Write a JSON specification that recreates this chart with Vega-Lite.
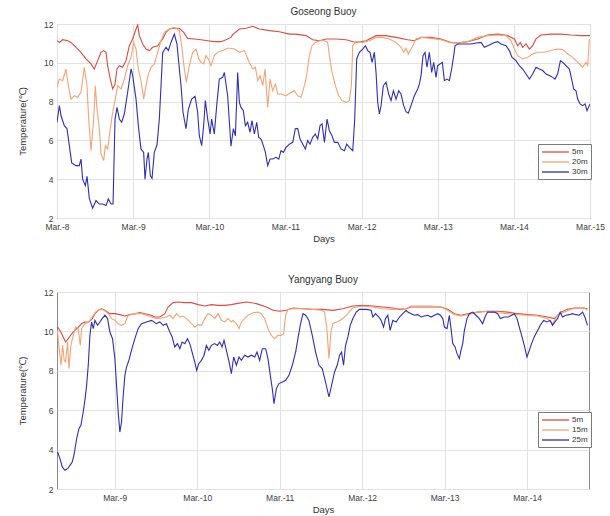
{
  "$schema": "https://vega.github.io/schema/vega-lite/v6.json",
  "padding": {"left": 17, "top": 6, "right": 10, "bottom": 0},
  "spacing": 30,
  "config": {
    "font": "Liberation Sans",
    "view": {"stroke": "#8a8a8a", "strokeWidth": 1},
    "axis": {"gridColor": "#e2e2e2", "domain": false, "ticks": false, "tickSize": 0, "labelPadding": 4, "labelFontSize": 8.5, "labelColor": "#404040", "titleFontSize": 9.5, "titleFontWeight": "normal", "titleColor": "#333333", "labelFlush": false, "labelOverlap": false},
    "title": {"fontSize": 10, "fontWeight": "normal", "color": "#333333", "offset": 3},
    "legend": {"title": null, "orient": "none", "symbolType": "M-1,0H5.75", "symbolSize": 64, "symbolStrokeWidth": 1.3, "labelFontSize": 8, "labelColor": "#333333", "strokeColor": "#7a7a7a", "fillColor": "#ffffff", "padding": 3, "rowPadding": 1, "labelOffset": 21}
  },
  "datasets": {
    "goseong": [
      {"depth":"5m","day":8.0,"temp":11.14},{"depth":"5m","day":8.031,"temp":11.05},{"depth":"5m","day":8.074,"temp":11.19},{"depth":"5m","day":8.14,"temp":11.14},{"depth":"5m","day":8.184,"temp":11.05},{"depth":"5m","day":8.25,"temp":10.8},{"depth":"5m","day":8.315,"temp":10.54},{"depth":"5m","day":8.381,"temp":10.2},{"depth":"5m","day":8.447,"temp":9.94},{"depth":"5m","day":8.49,"temp":9.68},{"depth":"5m","day":8.534,"temp":10.11},{"depth":"5m","day":8.578,"temp":10.54},{"depth":"5m","day":8.613,"temp":10.63},{"depth":"5m","day":8.644,"temp":10.54},{"depth":"5m","day":8.665,"temp":9.85},{"depth":"5m","day":8.7,"temp":9.16},{"depth":"5m","day":8.731,"temp":8.65},{"depth":"5m","day":8.762,"temp":8.9},{"depth":"5m","day":8.788,"temp":9.68},{"depth":"5m","day":8.819,"temp":9.85},{"depth":"5m","day":8.862,"temp":9.77},{"depth":"5m","day":8.906,"temp":10.11},{"depth":"5m","day":8.95,"temp":10.88},{"depth":"5m","day":8.994,"temp":11.23},{"depth":"5m","day":9.038,"temp":11.74},{"depth":"5m","day":9.059,"temp":11.95},{"depth":"5m","day":9.081,"temp":11.4},{"depth":"5m","day":9.125,"temp":10.97},{"depth":"5m","day":9.169,"temp":10.71},{"depth":"5m","day":9.213,"temp":10.63},{"depth":"5m","day":9.256,"temp":10.8},{"depth":"5m","day":9.322,"temp":10.88},{"depth":"5m","day":9.388,"temp":11.23},{"depth":"5m","day":9.432,"temp":11.57},{"depth":"5m","day":9.475,"temp":11.74},{"depth":"5m","day":9.541,"temp":11.78},{"depth":"5m","day":9.607,"temp":11.78},{"depth":"5m","day":9.664,"temp":11.57},{"depth":"5m","day":9.716,"temp":11.26},{"depth":"5m","day":9.804,"temp":11.23},{"depth":"5m","day":9.891,"temp":11.19},{"depth":"5m","day":9.979,"temp":11.14},{"depth":"5m","day":10.066,"temp":11.09},{"depth":"5m","day":10.154,"temp":11.09},{"depth":"5m","day":10.22,"temp":11.19},{"depth":"5m","day":10.285,"temp":11.31},{"depth":"5m","day":10.307,"temp":11.45},{"depth":"5m","day":10.395,"temp":11.74},{"depth":"5m","day":10.483,"temp":11.78},{"depth":"5m","day":10.57,"temp":11.88},{"depth":"5m","day":10.658,"temp":11.74},{"depth":"5m","day":10.789,"temp":11.66},{"depth":"5m","day":10.92,"temp":11.6},{"depth":"5m","day":11.052,"temp":11.48},{"depth":"5m","day":11.139,"temp":11.48},{"depth":"5m","day":11.271,"temp":11.4},{"depth":"5m","day":11.358,"temp":11.19},{"depth":"5m","day":11.446,"temp":11.14},{"depth":"5m","day":11.533,"temp":11.23},{"depth":"5m","day":11.665,"temp":11.23},{"depth":"5m","day":11.796,"temp":11.19},{"depth":"5m","day":11.927,"temp":11.05},{"depth":"5m","day":12.059,"temp":11.14},{"depth":"5m","day":12.19,"temp":11.4},{"depth":"5m","day":12.321,"temp":11.4},{"depth":"5m","day":12.453,"temp":11.31},{"depth":"5m","day":12.606,"temp":11.19},{"depth":"5m","day":12.693,"temp":11.14},{"depth":"5m","day":12.781,"temp":11.31},{"depth":"5m","day":12.912,"temp":11.31},{"depth":"5m","day":13.043,"temp":11.23},{"depth":"5m","day":13.175,"temp":11.05},{"depth":"5m","day":13.262,"temp":11.02},{"depth":"5m","day":13.394,"temp":11.09},{"depth":"5m","day":13.525,"temp":11.23},{"depth":"5m","day":13.656,"temp":11.43},{"depth":"5m","day":13.788,"temp":11.48},{"depth":"5m","day":13.919,"temp":11.4},{"depth":"5m","day":14.007,"temp":11.23},{"depth":"5m","day":14.05,"temp":10.88},{"depth":"5m","day":14.085,"temp":11.05},{"depth":"5m","day":14.116,"temp":10.8},{"depth":"5m","day":14.16,"temp":10.97},{"depth":"5m","day":14.204,"temp":10.71},{"depth":"5m","day":14.247,"temp":10.88},{"depth":"5m","day":14.291,"temp":11.23},{"depth":"5m","day":14.357,"temp":11.43},{"depth":"5m","day":14.488,"temp":11.48},{"depth":"5m","day":14.619,"temp":11.48},{"depth":"5m","day":14.751,"temp":11.43},{"depth":"5m","day":14.882,"temp":11.4},{"depth":"5m","day":15.0,"temp":11.4},
      {"depth":"20m","day":8.0,"temp":8.74},{"depth":"20m","day":8.031,"temp":9.16},{"depth":"20m","day":8.074,"temp":9.08},{"depth":"20m","day":8.118,"temp":9.68},{"depth":"20m","day":8.149,"temp":8.82},{"depth":"20m","day":8.184,"temp":8.13},{"depth":"20m","day":8.228,"temp":8.3},{"depth":"20m","day":8.271,"temp":8.22},{"depth":"20m","day":8.315,"temp":8.48},{"depth":"20m","day":8.359,"temp":9.77},{"depth":"20m","day":8.394,"temp":8.82},{"depth":"20m","day":8.416,"temp":7.1},{"depth":"20m","day":8.447,"temp":5.47},{"depth":"20m","day":8.482,"temp":7.1},{"depth":"20m","day":8.503,"temp":8.82},{"depth":"20m","day":8.525,"temp":7.62},{"depth":"20m","day":8.556,"temp":6.6},{"depth":"20m","day":8.578,"temp":5.3},{"depth":"20m","day":8.613,"temp":4.96},{"depth":"20m","day":8.635,"temp":5.73},{"depth":"20m","day":8.665,"temp":5.56},{"depth":"20m","day":8.7,"temp":6.6},{"depth":"20m","day":8.731,"temp":7.45},{"depth":"20m","day":8.766,"temp":8.13},{"depth":"20m","day":8.797,"temp":8.82},{"depth":"20m","day":8.841,"temp":8.65},{"depth":"20m","day":8.884,"temp":9.16},{"depth":"20m","day":8.928,"temp":9.85},{"depth":"20m","day":8.972,"temp":10.28},{"depth":"20m","day":9.007,"temp":11.05},{"depth":"20m","day":9.038,"temp":10.71},{"depth":"20m","day":9.068,"temp":9.68},{"depth":"20m","day":9.103,"temp":9.08},{"depth":"20m","day":9.138,"temp":8.13},{"depth":"20m","day":9.169,"temp":8.82},{"depth":"20m","day":9.2,"temp":9.42},{"depth":"20m","day":9.235,"temp":9.77},{"depth":"20m","day":9.278,"temp":9.94},{"depth":"20m","day":9.322,"temp":10.54},{"depth":"20m","day":9.366,"temp":11.14},{"depth":"20m","day":9.41,"temp":11.57},{"depth":"20m","day":9.475,"temp":11.74},{"depth":"20m","day":9.541,"temp":11.83},{"depth":"20m","day":9.607,"temp":11.66},{"depth":"20m","day":9.637,"temp":10.88},{"depth":"20m","day":9.672,"temp":9.68},{"depth":"20m","day":9.699,"temp":8.99},{"depth":"20m","day":9.738,"temp":9.85},{"depth":"20m","day":9.782,"temp":10.54},{"depth":"20m","day":9.826,"temp":10.71},{"depth":"20m","day":9.861,"temp":10.2},{"depth":"20m","day":9.891,"temp":10.02},{"depth":"20m","day":9.926,"temp":9.94},{"depth":"20m","day":9.957,"temp":10.37},{"depth":"20m","day":9.988,"temp":10.2},{"depth":"20m","day":10.023,"temp":9.85},{"depth":"20m","day":10.066,"temp":10.37},{"depth":"20m","day":10.11,"temp":10.54},{"depth":"20m","day":10.176,"temp":10.63},{"depth":"20m","day":10.241,"temp":10.75},{"depth":"20m","day":10.285,"temp":10.75},{"depth":"20m","day":10.329,"temp":10.71},{"depth":"20m","day":10.395,"temp":10.54},{"depth":"20m","day":10.461,"temp":10.63},{"depth":"20m","day":10.526,"temp":10.02},{"depth":"20m","day":10.57,"temp":9.68},{"depth":"20m","day":10.605,"temp":9.77},{"depth":"20m","day":10.636,"temp":9.08},{"depth":"20m","day":10.667,"temp":9.34},{"depth":"20m","day":10.702,"temp":8.82},{"depth":"20m","day":10.732,"temp":9.68},{"depth":"20m","day":10.767,"temp":7.7},{"depth":"20m","day":10.798,"temp":9.16},{"depth":"20m","day":10.833,"temp":8.56},{"depth":"20m","day":10.868,"temp":8.9},{"depth":"20m","day":10.899,"temp":8.39},{"depth":"20m","day":10.942,"temp":8.39},{"depth":"20m","day":11.008,"temp":8.3},{"depth":"20m","day":11.074,"temp":8.48},{"depth":"20m","day":11.117,"temp":8.56},{"depth":"20m","day":11.161,"temp":8.3},{"depth":"20m","day":11.205,"temp":8.22},{"depth":"20m","day":11.249,"temp":8.82},{"depth":"20m","day":11.279,"temp":9.34},{"depth":"20m","day":11.314,"temp":10.37},{"depth":"20m","day":11.35,"temp":10.88},{"depth":"20m","day":11.393,"temp":11.05},{"depth":"20m","day":11.446,"temp":11.14},{"depth":"20m","day":11.512,"temp":11.14},{"depth":"20m","day":11.555,"temp":11.05},{"depth":"20m","day":11.577,"temp":10.37},{"depth":"20m","day":11.612,"temp":9.5},{"depth":"20m","day":11.656,"temp":8.82},{"depth":"20m","day":11.7,"temp":8.3},{"depth":"20m","day":11.743,"temp":8.05},{"depth":"20m","day":11.796,"temp":7.96},{"depth":"20m","day":11.84,"temp":8.05},{"depth":"20m","day":11.866,"temp":8.82},{"depth":"20m","day":11.884,"temp":10.88},{"depth":"20m","day":11.927,"temp":11.09},{"depth":"20m","day":12.015,"temp":11.05},{"depth":"20m","day":12.103,"temp":11.14},{"depth":"20m","day":12.19,"temp":11.31},{"depth":"20m","day":12.278,"temp":11.31},{"depth":"20m","day":12.365,"temp":11.23},{"depth":"20m","day":12.453,"temp":11.05},{"depth":"20m","day":12.518,"temp":10.8},{"depth":"20m","day":12.553,"temp":10.54},{"depth":"20m","day":12.584,"temp":10.75},{"depth":"20m","day":12.614,"temp":10.45},{"depth":"20m","day":12.649,"temp":10.71},{"depth":"20m","day":12.684,"temp":10.97},{"depth":"20m","day":12.715,"temp":11.23},{"depth":"20m","day":12.781,"temp":11.31},{"depth":"20m","day":12.912,"temp":11.26},{"depth":"20m","day":13.043,"temp":11.19},{"depth":"20m","day":13.175,"temp":11.02},{"depth":"20m","day":13.262,"temp":11.02},{"depth":"20m","day":13.394,"temp":11.09},{"depth":"20m","day":13.525,"temp":11.31},{"depth":"20m","day":13.656,"temp":11.4},{"depth":"20m","day":13.788,"temp":11.43},{"depth":"20m","day":13.897,"temp":11.4},{"depth":"20m","day":13.963,"temp":11.14},{"depth":"20m","day":14.007,"temp":10.71},{"depth":"20m","day":14.05,"temp":10.37},{"depth":"20m","day":14.116,"temp":10.2},{"depth":"20m","day":14.182,"temp":10.28},{"depth":"20m","day":14.247,"temp":10.45},{"depth":"20m","day":14.313,"temp":10.54},{"depth":"20m","day":14.4,"temp":10.54},{"depth":"20m","day":14.488,"temp":10.63},{"depth":"20m","day":14.575,"temp":10.71},{"depth":"20m","day":14.641,"temp":10.68},{"depth":"20m","day":14.707,"temp":10.45},{"depth":"20m","day":14.773,"temp":10.28},{"depth":"20m","day":14.838,"temp":10.02},{"depth":"20m","day":14.904,"temp":9.77},{"depth":"20m","day":14.948,"temp":10.02},{"depth":"20m","day":14.97,"temp":9.85},{"depth":"20m","day":14.991,"temp":11.23},
      {"depth":"30m","day":8.0,"temp":6.93},{"depth":"30m","day":8.031,"temp":7.8},{"depth":"30m","day":8.053,"temp":7.27},{"depth":"30m","day":8.096,"temp":6.76},{"depth":"30m","day":8.131,"temp":6.6},{"depth":"30m","day":8.162,"temp":5.73},{"depth":"30m","day":8.193,"temp":4.84},{"depth":"30m","day":8.25,"temp":4.7},{"depth":"30m","day":8.293,"temp":4.7},{"depth":"30m","day":8.315,"temp":5.04},{"depth":"30m","day":8.337,"temp":4.0},{"depth":"30m","day":8.372,"temp":3.67},{"depth":"30m","day":8.394,"temp":4.15},{"depth":"30m","day":8.425,"temp":3.0},{"depth":"30m","day":8.468,"temp":2.5},{"depth":"30m","day":8.512,"temp":2.9},{"depth":"30m","day":8.556,"temp":2.72},{"depth":"30m","day":8.6,"temp":2.72},{"depth":"30m","day":8.644,"temp":2.64},{"depth":"30m","day":8.674,"temp":2.98},{"depth":"30m","day":8.709,"temp":2.72},{"depth":"30m","day":8.736,"temp":2.72},{"depth":"30m","day":8.762,"temp":7.1},{"depth":"30m","day":8.788,"temp":7.7},{"depth":"30m","day":8.819,"temp":7.1},{"depth":"30m","day":8.849,"temp":6.93},{"depth":"30m","day":8.884,"temp":7.36},{"depth":"30m","day":8.928,"temp":8.48},{"depth":"30m","day":8.972,"temp":9.68},{"depth":"30m","day":8.994,"temp":9.34},{"depth":"30m","day":9.038,"temp":8.13},{"depth":"30m","day":9.068,"temp":6.76},{"depth":"30m","day":9.103,"temp":5.56},{"depth":"30m","day":9.138,"temp":5.38},{"depth":"30m","day":9.156,"temp":4.0},{"depth":"30m","day":9.182,"temp":5.04},{"depth":"30m","day":9.2,"temp":5.38},{"depth":"30m","day":9.226,"temp":4.18},{"depth":"30m","day":9.248,"temp":4.04},{"depth":"30m","day":9.278,"temp":5.38},{"depth":"30m","day":9.313,"temp":5.76},{"depth":"30m","day":9.344,"temp":7.1},{"depth":"30m","day":9.366,"temp":8.82},{"depth":"30m","day":9.388,"temp":10.54},{"depth":"30m","day":9.432,"temp":10.8},{"depth":"30m","day":9.462,"temp":10.63},{"depth":"30m","day":9.497,"temp":11.05},{"depth":"30m","day":9.541,"temp":11.48},{"depth":"30m","day":9.576,"temp":10.97},{"depth":"30m","day":9.607,"temp":9.68},{"depth":"30m","day":9.629,"temp":8.82},{"depth":"30m","day":9.655,"temp":7.45},{"depth":"30m","day":9.694,"temp":6.6},{"depth":"30m","day":9.725,"temp":7.6},{"depth":"30m","day":9.769,"temp":8.13},{"depth":"30m","day":9.813,"temp":8.27},{"depth":"30m","day":9.847,"temp":7.45},{"depth":"30m","day":9.869,"temp":6.24},{"depth":"30m","day":9.9,"temp":5.73},{"depth":"30m","day":9.926,"temp":6.76},{"depth":"30m","day":9.948,"temp":8.05},{"depth":"30m","day":9.979,"temp":7.1},{"depth":"30m","day":10.01,"temp":6.33},{"depth":"30m","day":10.031,"temp":7.1},{"depth":"30m","day":10.066,"temp":6.33},{"depth":"30m","day":10.101,"temp":7.96},{"depth":"30m","day":10.132,"temp":9.16},{"depth":"30m","day":10.176,"temp":9.25},{"depth":"30m","day":10.198,"temp":9.5},{"depth":"30m","day":10.241,"temp":8.3},{"depth":"30m","day":10.285,"temp":5.7},{"depth":"30m","day":10.316,"temp":6.6},{"depth":"30m","day":10.343,"temp":6.24},{"depth":"30m","day":10.373,"temp":9.5},{"depth":"30m","day":10.395,"temp":7.96},{"depth":"30m","day":10.417,"temp":7.7},{"depth":"30m","day":10.447,"temp":7.53},{"depth":"30m","day":10.474,"temp":6.76},{"depth":"30m","day":10.504,"temp":6.93},{"depth":"30m","day":10.535,"temp":6.42},{"depth":"30m","day":10.561,"temp":7.02},{"depth":"30m","day":10.592,"temp":6.33},{"depth":"30m","day":10.623,"temp":6.93},{"depth":"30m","day":10.649,"temp":6.16},{"depth":"30m","day":10.68,"temp":6.07},{"depth":"30m","day":10.71,"temp":5.73},{"depth":"30m","day":10.737,"temp":5.38},{"depth":"30m","day":10.767,"temp":4.7},{"depth":"30m","day":10.798,"temp":5.04},{"depth":"30m","day":10.833,"temp":5.04},{"depth":"30m","day":10.877,"temp":5.13},{"depth":"30m","day":10.912,"temp":5.04},{"depth":"30m","day":10.942,"temp":5.47},{"depth":"30m","day":10.973,"temp":5.38},{"depth":"30m","day":11.008,"temp":5.64},{"depth":"30m","day":11.052,"temp":5.81},{"depth":"30m","day":11.096,"temp":5.9},{"depth":"30m","day":11.13,"temp":6.6},{"depth":"30m","day":11.161,"temp":6.62},{"depth":"30m","day":11.192,"temp":6.07},{"depth":"30m","day":11.227,"temp":5.81},{"depth":"30m","day":11.262,"temp":5.56},{"depth":"30m","day":11.292,"temp":5.99},{"depth":"30m","day":11.323,"temp":5.81},{"depth":"30m","day":11.358,"temp":6.16},{"depth":"30m","day":11.393,"temp":6.33},{"depth":"30m","day":11.424,"temp":6.07},{"depth":"30m","day":11.455,"temp":6.76},{"depth":"30m","day":11.481,"temp":6.85},{"depth":"30m","day":11.512,"temp":5.9},{"depth":"30m","day":11.547,"temp":7.1},{"depth":"30m","day":11.577,"temp":6.5},{"depth":"30m","day":11.612,"temp":6.24},{"depth":"30m","day":11.643,"temp":5.9},{"depth":"30m","day":11.687,"temp":5.9},{"depth":"30m","day":11.73,"temp":5.56},{"depth":"30m","day":11.774,"temp":5.47},{"depth":"30m","day":11.805,"temp":5.81},{"depth":"30m","day":11.84,"temp":5.64},{"depth":"30m","day":11.884,"temp":5.47},{"depth":"30m","day":11.91,"temp":7.1},{"depth":"30m","day":11.936,"temp":10.2},{"depth":"30m","day":11.971,"temp":10.54},{"depth":"30m","day":12.015,"temp":10.71},{"depth":"30m","day":12.05,"temp":10.88},{"depth":"30m","day":12.081,"temp":10.63},{"depth":"30m","day":12.111,"temp":10.54},{"depth":"30m","day":12.138,"temp":10.02},{"depth":"30m","day":12.168,"temp":10.54},{"depth":"30m","day":12.19,"temp":9.5},{"depth":"30m","day":12.212,"temp":7.96},{"depth":"30m","day":12.234,"temp":7.36},{"depth":"30m","day":12.256,"temp":7.79},{"depth":"30m","day":12.286,"temp":8.82},{"depth":"30m","day":12.321,"temp":9.0},{"depth":"30m","day":12.356,"temp":8.39},{"depth":"30m","day":12.387,"temp":8.05},{"depth":"30m","day":12.418,"temp":8.56},{"depth":"30m","day":12.453,"temp":8.13},{"depth":"30m","day":12.488,"temp":8.56},{"depth":"30m","day":12.518,"temp":8.39},{"depth":"30m","day":12.553,"temp":7.79},{"depth":"30m","day":12.584,"temp":7.48},{"depth":"30m","day":12.614,"temp":7.4},{"depth":"30m","day":12.649,"temp":7.79},{"depth":"30m","day":12.693,"temp":8.3},{"depth":"30m","day":12.737,"temp":8.65},{"depth":"30m","day":12.759,"temp":8.9},{"depth":"30m","day":12.781,"temp":9.34},{"depth":"30m","day":12.807,"temp":10.37},{"depth":"30m","day":12.833,"temp":10.54},{"depth":"30m","day":12.859,"temp":9.77},{"depth":"30m","day":12.89,"temp":10.54},{"depth":"30m","day":12.921,"temp":9.5},{"depth":"30m","day":12.947,"temp":10.02},{"depth":"30m","day":12.978,"temp":9.25},{"depth":"30m","day":12.999,"temp":9.85},{"depth":"30m","day":13.03,"temp":9.94},{"depth":"30m","day":13.061,"temp":10.02},{"depth":"30m","day":13.087,"temp":9.08},{"depth":"30m","day":13.122,"temp":9.16},{"depth":"30m","day":13.153,"temp":9.08},{"depth":"30m","day":13.183,"temp":9.68},{"depth":"30m","day":13.21,"temp":10.37},{"depth":"30m","day":13.227,"temp":10.88},{"depth":"30m","day":13.262,"temp":10.97},{"depth":"30m","day":13.35,"temp":10.97},{"depth":"30m","day":13.437,"temp":10.97},{"depth":"30m","day":13.503,"temp":11.02},{"depth":"30m","day":13.569,"temp":11.05},{"depth":"30m","day":13.613,"temp":10.8},{"depth":"30m","day":13.678,"temp":10.92},{"depth":"30m","day":13.744,"temp":11.05},{"depth":"30m","day":13.788,"temp":11.09},{"depth":"30m","day":13.831,"temp":10.97},{"depth":"30m","day":13.897,"temp":10.88},{"depth":"30m","day":13.941,"temp":10.63},{"depth":"30m","day":13.976,"temp":10.28},{"depth":"30m","day":14.028,"temp":10.11},{"depth":"30m","day":14.072,"temp":9.85},{"depth":"30m","day":14.116,"temp":9.68},{"depth":"30m","day":14.16,"temp":9.42},{"depth":"30m","day":14.204,"temp":9.16},{"depth":"30m","day":14.247,"temp":9.42},{"depth":"30m","day":14.291,"temp":9.77},{"depth":"30m","day":14.335,"temp":9.68},{"depth":"30m","day":14.379,"temp":9.6},{"depth":"30m","day":14.422,"temp":9.42},{"depth":"30m","day":14.466,"temp":9.34},{"depth":"30m","day":14.51,"temp":9.25},{"depth":"30m","day":14.54,"temp":9.16},{"depth":"30m","day":14.575,"temp":9.42},{"depth":"30m","day":14.611,"temp":10.11},{"depth":"30m","day":14.641,"temp":10.02},{"depth":"30m","day":14.685,"temp":9.85},{"depth":"30m","day":14.729,"temp":9.68},{"depth":"30m","day":14.759,"temp":9.16},{"depth":"30m","day":14.786,"temp":8.65},{"depth":"30m","day":14.816,"temp":8.56},{"depth":"30m","day":14.838,"temp":8.13},{"depth":"30m","day":14.869,"temp":7.88},{"depth":"30m","day":14.904,"temp":7.79},{"depth":"30m","day":14.935,"temp":7.88},{"depth":"30m","day":14.961,"temp":7.53},{"depth":"30m","day":15.0,"temp":7.88}
    ],
    "yangyang": [
      {"depth":"5m","day":8.307,"temp":10.22},{"depth":"5m","day":8.336,"temp":10.05},{"depth":"5m","day":8.376,"temp":9.72},{"depth":"5m","day":8.404,"temp":9.46},{"depth":"5m","day":8.437,"temp":9.63},{"depth":"5m","day":8.477,"temp":9.88},{"depth":"5m","day":8.517,"temp":10.05},{"depth":"5m","day":8.558,"temp":10.22},{"depth":"5m","day":8.598,"temp":10.39},{"depth":"5m","day":8.638,"temp":10.48},{"depth":"5m","day":8.687,"temp":10.48},{"depth":"5m","day":8.727,"temp":10.65},{"depth":"5m","day":8.76,"temp":10.9},{"depth":"5m","day":8.8,"temp":11.07},{"depth":"5m","day":8.84,"temp":11.15},{"depth":"5m","day":8.881,"temp":11.07},{"depth":"5m","day":8.941,"temp":10.9},{"depth":"5m","day":9.002,"temp":10.9},{"depth":"5m","day":9.062,"temp":10.85},{"depth":"5m","day":9.123,"temp":10.78},{"depth":"5m","day":9.183,"temp":10.85},{"depth":"5m","day":9.244,"temp":10.9},{"depth":"5m","day":9.304,"temp":10.95},{"depth":"5m","day":9.365,"temp":10.9},{"depth":"5m","day":9.425,"temp":10.85},{"depth":"5m","day":9.486,"temp":10.73},{"depth":"5m","day":9.546,"temp":10.73},{"depth":"5m","day":9.607,"temp":10.9},{"depth":"5m","day":9.647,"temp":11.24},{"depth":"5m","day":9.708,"temp":11.46},{"depth":"5m","day":9.768,"temp":11.49},{"depth":"5m","day":9.849,"temp":11.46},{"depth":"5m","day":9.93,"temp":11.46},{"depth":"5m","day":10.011,"temp":11.36},{"depth":"5m","day":10.091,"temp":11.29},{"depth":"5m","day":10.172,"temp":11.36},{"depth":"5m","day":10.253,"temp":11.32},{"depth":"5m","day":10.334,"temp":11.32},{"depth":"5m","day":10.414,"temp":11.36},{"depth":"5m","day":10.475,"temp":11.41},{"depth":"5m","day":10.596,"temp":11.49},{"depth":"5m","day":10.717,"temp":11.41},{"depth":"5m","day":10.838,"temp":11.24},{"depth":"5m","day":10.919,"temp":11.07},{"depth":"5m","day":10.999,"temp":11.02},{"depth":"5m","day":11.08,"temp":11.07},{"depth":"5m","day":11.161,"temp":11.19},{"depth":"5m","day":11.282,"temp":11.15},{"depth":"5m","day":11.403,"temp":11.12},{"depth":"5m","day":11.524,"temp":11.12},{"depth":"5m","day":11.645,"temp":11.07},{"depth":"5m","day":11.766,"temp":11.15},{"depth":"5m","day":11.887,"temp":11.29},{"depth":"5m","day":12.008,"temp":11.32},{"depth":"5m","day":12.13,"temp":11.29},{"depth":"5m","day":12.25,"temp":11.24},{"depth":"5m","day":12.372,"temp":11.19},{"depth":"5m","day":12.452,"temp":11.12},{"depth":"5m","day":12.533,"temp":11.15},{"depth":"5m","day":12.593,"temp":11.24},{"depth":"5m","day":12.714,"temp":11.24},{"depth":"5m","day":12.835,"temp":11.24},{"depth":"5m","day":12.956,"temp":11.24},{"depth":"5m","day":13.037,"temp":11.12},{"depth":"5m","day":13.118,"temp":10.9},{"depth":"5m","day":13.198,"temp":10.82},{"depth":"5m","day":13.279,"temp":10.9},{"depth":"5m","day":13.4,"temp":10.98},{"depth":"5m","day":13.521,"temp":11.02},{"depth":"5m","day":13.642,"temp":11.02},{"depth":"5m","day":13.764,"temp":10.98},{"depth":"5m","day":13.885,"temp":10.9},{"depth":"5m","day":14.006,"temp":10.85},{"depth":"5m","day":14.127,"temp":10.82},{"depth":"5m","day":14.248,"temp":10.73},{"depth":"5m","day":14.329,"temp":10.65},{"depth":"5m","day":14.409,"temp":10.98},{"depth":"5m","day":14.49,"temp":11.12},{"depth":"5m","day":14.571,"temp":11.19},{"depth":"5m","day":14.672,"temp":11.19},{"depth":"5m","day":14.732,"temp":11.15},
      {"depth":"15m","day":8.307,"temp":9.97},{"depth":"15m","day":8.324,"temp":9.21},{"depth":"15m","day":8.348,"temp":8.28},{"depth":"15m","day":8.368,"temp":9.29},{"depth":"15m","day":8.388,"temp":8.53},{"depth":"15m","day":8.404,"temp":8.45},{"depth":"15m","day":8.429,"temp":9.46},{"depth":"15m","day":8.445,"temp":8.11},{"depth":"15m","day":8.469,"temp":9.29},{"depth":"15m","day":8.497,"temp":9.8},{"depth":"15m","day":8.525,"temp":10.22},{"depth":"15m","day":8.558,"temp":10.14},{"depth":"15m","day":8.582,"temp":9.29},{"depth":"15m","day":8.598,"temp":10.14},{"depth":"15m","day":8.638,"temp":10.39},{"depth":"15m","day":8.687,"temp":10.48},{"depth":"15m","day":8.727,"temp":10.73},{"depth":"15m","day":8.768,"temp":10.98},{"depth":"15m","day":8.82,"temp":11.12},{"depth":"15m","day":8.873,"temp":11.07},{"depth":"15m","day":8.921,"temp":10.9},{"depth":"15m","day":8.961,"temp":10.65},{"depth":"15m","day":9.002,"temp":10.56},{"depth":"15m","day":9.042,"temp":10.39},{"depth":"15m","day":9.082,"temp":10.31},{"depth":"15m","day":9.123,"temp":10.39},{"depth":"15m","day":9.163,"temp":10.82},{"depth":"15m","day":9.203,"temp":10.85},{"depth":"15m","day":9.264,"temp":10.9},{"depth":"15m","day":9.325,"temp":10.9},{"depth":"15m","day":9.385,"temp":10.82},{"depth":"15m","day":9.446,"temp":10.73},{"depth":"15m","day":9.506,"temp":10.65},{"depth":"15m","day":9.567,"temp":10.68},{"depth":"15m","day":9.627,"temp":10.73},{"depth":"15m","day":9.668,"temp":10.82},{"depth":"15m","day":9.708,"temp":10.65},{"depth":"15m","day":9.748,"temp":10.9},{"depth":"15m","day":9.789,"temp":10.73},{"depth":"15m","day":9.829,"temp":10.78},{"depth":"15m","day":9.869,"temp":10.65},{"depth":"15m","day":9.91,"temp":10.48},{"depth":"15m","day":9.97,"temp":10.22},{"depth":"15m","day":10.011,"temp":10.34},{"depth":"15m","day":10.051,"temp":10.31},{"depth":"15m","day":10.091,"temp":10.65},{"depth":"15m","day":10.132,"temp":10.9},{"depth":"15m","day":10.172,"temp":10.82},{"depth":"15m","day":10.212,"temp":10.65},{"depth":"15m","day":10.253,"temp":10.9},{"depth":"15m","day":10.293,"temp":10.56},{"depth":"15m","day":10.334,"temp":10.48},{"depth":"15m","day":10.374,"temp":10.65},{"depth":"15m","day":10.414,"temp":10.48},{"depth":"15m","day":10.434,"temp":10.56},{"depth":"15m","day":10.475,"temp":10.39},{"depth":"15m","day":10.507,"temp":10.14},{"depth":"15m","day":10.535,"temp":10.48},{"depth":"15m","day":10.575,"temp":10.65},{"depth":"15m","day":10.616,"temp":10.82},{"depth":"15m","day":10.676,"temp":10.95},{"depth":"15m","day":10.737,"temp":10.98},{"depth":"15m","day":10.777,"temp":10.9},{"depth":"15m","day":10.818,"temp":10.65},{"depth":"15m","day":10.858,"temp":10.14},{"depth":"15m","day":10.898,"temp":9.8},{"depth":"15m","day":10.939,"temp":9.63},{"depth":"15m","day":10.979,"temp":9.8},{"depth":"15m","day":11.019,"temp":9.8},{"depth":"15m","day":11.048,"temp":9.88},{"depth":"15m","day":11.072,"temp":10.82},{"depth":"15m","day":11.1,"temp":11.12},{"depth":"15m","day":11.161,"temp":11.15},{"depth":"15m","day":11.282,"temp":11.15},{"depth":"15m","day":11.403,"temp":11.12},{"depth":"15m","day":11.504,"temp":11.07},{"depth":"15m","day":11.544,"temp":10.98},{"depth":"15m","day":11.572,"temp":10.14},{"depth":"15m","day":11.597,"temp":8.62},{"depth":"15m","day":11.621,"temp":9.97},{"depth":"15m","day":11.645,"temp":10.4},{"depth":"15m","day":11.706,"temp":10.5},{"depth":"15m","day":11.766,"temp":10.65},{"depth":"15m","day":11.827,"temp":10.9},{"depth":"15m","day":11.887,"temp":11.2},{"depth":"15m","day":12.008,"temp":11.29},{"depth":"15m","day":12.13,"temp":11.24},{"depth":"15m","day":12.25,"temp":11.15},{"depth":"15m","day":12.372,"temp":11.12},{"depth":"15m","day":12.452,"temp":11.15},{"depth":"15m","day":12.533,"temp":11.15},{"depth":"15m","day":12.593,"temp":11.29},{"depth":"15m","day":12.714,"temp":11.29},{"depth":"15m","day":12.835,"temp":11.29},{"depth":"15m","day":12.956,"temp":11.24},{"depth":"15m","day":13.037,"temp":11.07},{"depth":"15m","day":13.118,"temp":10.85},{"depth":"15m","day":13.198,"temp":10.78},{"depth":"15m","day":13.279,"temp":10.85},{"depth":"15m","day":13.4,"temp":10.98},{"depth":"15m","day":13.521,"temp":11.02},{"depth":"15m","day":13.642,"temp":10.95},{"depth":"15m","day":13.764,"temp":10.9},{"depth":"15m","day":13.885,"temp":10.85},{"depth":"15m","day":14.006,"temp":10.82},{"depth":"15m","day":14.127,"temp":10.78},{"depth":"15m","day":14.248,"temp":10.65},{"depth":"15m","day":14.308,"temp":10.39},{"depth":"15m","day":14.369,"temp":10.82},{"depth":"15m","day":14.45,"temp":10.98},{"depth":"15m","day":14.53,"temp":11.12},{"depth":"15m","day":14.611,"temp":11.19},{"depth":"15m","day":14.692,"temp":11.19},{"depth":"15m","day":14.732,"temp":11.07},
      {"depth":"25m","day":8.307,"temp":3.88},{"depth":"25m","day":8.336,"temp":3.54},{"depth":"25m","day":8.364,"temp":3.12},{"depth":"25m","day":8.396,"temp":2.95},{"depth":"25m","day":8.429,"temp":3.03},{"depth":"25m","day":8.457,"temp":3.2},{"depth":"25m","day":8.485,"temp":3.37},{"depth":"25m","day":8.509,"temp":3.79},{"depth":"25m","day":8.538,"temp":4.55},{"depth":"25m","day":8.566,"temp":5.06},{"depth":"25m","day":8.59,"temp":5.23},{"depth":"25m","day":8.618,"temp":5.91},{"depth":"25m","day":8.638,"temp":6.5},{"depth":"25m","day":8.659,"temp":7.26},{"depth":"25m","day":8.679,"temp":8.28},{"depth":"25m","day":8.699,"temp":9.8},{"depth":"25m","day":8.719,"temp":10.48},{"depth":"25m","day":8.739,"temp":10.14},{"depth":"25m","day":8.76,"temp":10.56},{"depth":"25m","day":8.792,"temp":10.31},{"depth":"25m","day":8.82,"temp":10.48},{"depth":"25m","day":8.848,"temp":10.65},{"depth":"25m","day":8.881,"temp":10.82},{"depth":"25m","day":8.913,"temp":10.65},{"depth":"25m","day":8.941,"temp":9.97},{"depth":"25m","day":8.973,"temp":9.63},{"depth":"25m","day":9.002,"temp":8.62},{"depth":"25m","day":9.022,"temp":7.26},{"depth":"25m","day":9.042,"temp":5.91},{"depth":"25m","day":9.062,"temp":4.89},{"depth":"25m","day":9.082,"temp":5.4},{"depth":"25m","day":9.103,"temp":6.75},{"depth":"25m","day":9.123,"temp":7.77},{"depth":"25m","day":9.143,"temp":8.19},{"depth":"25m","day":9.171,"temp":8.53},{"depth":"25m","day":9.203,"temp":9.04},{"depth":"25m","day":9.244,"temp":9.63},{"depth":"25m","day":9.284,"temp":10.14},{"depth":"25m","day":9.325,"temp":10.39},{"depth":"25m","day":9.385,"temp":10.48},{"depth":"25m","day":9.446,"temp":10.56},{"depth":"25m","day":9.506,"temp":10.39},{"depth":"25m","day":9.546,"temp":10.48},{"depth":"25m","day":9.587,"temp":10.31},{"depth":"25m","day":9.627,"temp":10.39},{"depth":"25m","day":9.668,"temp":9.97},{"depth":"25m","day":9.696,"temp":9.72},{"depth":"25m","day":9.728,"temp":9.21},{"depth":"25m","day":9.76,"temp":9.38},{"depth":"25m","day":9.789,"temp":9.12},{"depth":"25m","day":9.817,"temp":9.46},{"depth":"25m","day":9.849,"temp":9.38},{"depth":"25m","day":9.882,"temp":9.63},{"depth":"25m","day":9.91,"temp":9.38},{"depth":"25m","day":9.938,"temp":8.95},{"depth":"25m","day":9.97,"temp":8.45},{"depth":"25m","day":9.994,"temp":8.02},{"depth":"25m","day":10.019,"temp":8.36},{"depth":"25m","day":10.051,"temp":8.53},{"depth":"25m","day":10.083,"temp":8.79},{"depth":"25m","day":10.111,"temp":9.29},{"depth":"25m","day":10.14,"temp":9.04},{"depth":"25m","day":10.172,"temp":9.29},{"depth":"25m","day":10.212,"temp":9.38},{"depth":"25m","day":10.245,"temp":9.29},{"depth":"25m","day":10.273,"temp":9.46},{"depth":"25m","day":10.301,"temp":9.21},{"depth":"25m","day":10.325,"temp":9.55},{"depth":"25m","day":10.354,"temp":9.04},{"depth":"25m","day":10.386,"temp":8.45},{"depth":"25m","day":10.414,"temp":7.85},{"depth":"25m","day":10.442,"temp":8.7},{"depth":"25m","day":10.475,"temp":8.28},{"depth":"25m","day":10.507,"temp":8.7},{"depth":"25m","day":10.535,"temp":8.53},{"depth":"25m","day":10.575,"temp":8.79},{"depth":"25m","day":10.616,"temp":8.7},{"depth":"25m","day":10.656,"temp":8.79},{"depth":"25m","day":10.697,"temp":8.7},{"depth":"25m","day":10.725,"temp":8.95},{"depth":"25m","day":10.757,"temp":8.53},{"depth":"25m","day":10.789,"temp":9.12},{"depth":"25m","day":10.83,"temp":9.12},{"depth":"25m","day":10.858,"temp":8.62},{"depth":"25m","day":10.886,"temp":7.77},{"depth":"25m","day":10.91,"temp":7.09},{"depth":"25m","day":10.931,"temp":6.33},{"depth":"25m","day":10.959,"temp":7.09},{"depth":"25m","day":10.991,"temp":7.35},{"depth":"25m","day":11.032,"temp":7.43},{"depth":"25m","day":11.072,"temp":7.52},{"depth":"25m","day":11.112,"temp":7.77},{"depth":"25m","day":11.153,"temp":8.28},{"depth":"25m","day":11.193,"temp":8.95},{"depth":"25m","day":11.221,"temp":9.63},{"depth":"25m","day":11.249,"temp":10.31},{"depth":"25m","day":11.282,"temp":10.9},{"depth":"25m","day":11.314,"temp":10.82},{"depth":"25m","day":11.354,"temp":10.56},{"depth":"25m","day":11.395,"temp":9.8},{"depth":"25m","day":11.435,"temp":8.95},{"depth":"25m","day":11.476,"temp":8.28},{"depth":"25m","day":11.516,"temp":8.11},{"depth":"25m","day":11.556,"temp":7.43},{"depth":"25m","day":11.597,"temp":6.67},{"depth":"25m","day":11.629,"temp":7.26},{"depth":"25m","day":11.665,"temp":7.94},{"depth":"25m","day":11.697,"temp":8.28},{"depth":"25m","day":11.726,"temp":8.79},{"depth":"25m","day":11.75,"temp":8.95},{"depth":"25m","day":11.774,"temp":8.28},{"depth":"25m","day":11.798,"temp":9.29},{"depth":"25m","day":11.827,"temp":9.72},{"depth":"25m","day":11.855,"temp":10.31},{"depth":"25m","day":11.887,"temp":10.65},{"depth":"25m","day":11.928,"temp":10.98},{"depth":"25m","day":11.968,"temp":11.12},{"depth":"25m","day":12.049,"temp":11.12},{"depth":"25m","day":12.109,"temp":11.07},{"depth":"25m","day":12.13,"temp":10.73},{"depth":"25m","day":12.162,"temp":10.9},{"depth":"25m","day":12.202,"temp":10.73},{"depth":"25m","day":12.23,"temp":10.56},{"depth":"25m","day":12.259,"temp":10.22},{"depth":"25m","day":12.283,"temp":10.65},{"depth":"25m","day":12.311,"temp":10.82},{"depth":"25m","day":12.339,"temp":10.05},{"depth":"25m","day":12.372,"temp":10.56},{"depth":"25m","day":12.412,"temp":10.48},{"depth":"25m","day":12.452,"temp":10.73},{"depth":"25m","day":12.493,"temp":10.9},{"depth":"25m","day":12.533,"temp":11.07},{"depth":"25m","day":12.553,"temp":10.98},{"depth":"25m","day":12.593,"temp":10.9},{"depth":"25m","day":12.633,"temp":10.82},{"depth":"25m","day":12.674,"temp":10.85},{"depth":"25m","day":12.714,"temp":10.73},{"depth":"25m","day":12.755,"temp":10.78},{"depth":"25m","day":12.795,"temp":10.82},{"depth":"25m","day":12.835,"temp":10.73},{"depth":"25m","day":12.876,"temp":10.82},{"depth":"25m","day":12.916,"temp":10.9},{"depth":"25m","day":12.948,"temp":10.82},{"depth":"25m","day":12.977,"temp":10.65},{"depth":"25m","day":12.997,"temp":10.22},{"depth":"25m","day":13.029,"temp":10.14},{"depth":"25m","day":13.057,"temp":10.82},{"depth":"25m","day":13.077,"temp":10.14},{"depth":"25m","day":13.098,"temp":9.38},{"depth":"25m","day":13.126,"temp":9.21},{"depth":"25m","day":13.15,"temp":8.87},{"depth":"25m","day":13.178,"temp":8.62},{"depth":"25m","day":13.198,"temp":9.04},{"depth":"25m","day":13.219,"temp":9.38},{"depth":"25m","day":13.239,"temp":10.05},{"depth":"25m","day":13.271,"temp":10.65},{"depth":"25m","day":13.3,"temp":10.9},{"depth":"25m","day":13.34,"temp":10.98},{"depth":"25m","day":13.38,"temp":10.82},{"depth":"25m","day":13.42,"temp":10.65},{"depth":"25m","day":13.461,"temp":10.39},{"depth":"25m","day":13.489,"temp":10.73},{"depth":"25m","day":13.521,"temp":10.98},{"depth":"25m","day":13.562,"temp":10.98},{"depth":"25m","day":13.602,"temp":10.98},{"depth":"25m","day":13.642,"temp":10.9},{"depth":"25m","day":13.675,"temp":10.65},{"depth":"25m","day":13.723,"temp":10.73},{"depth":"25m","day":13.772,"temp":10.73},{"depth":"25m","day":13.812,"temp":10.82},{"depth":"25m","day":13.844,"temp":10.9},{"depth":"25m","day":13.877,"temp":10.65},{"depth":"25m","day":13.905,"temp":10.22},{"depth":"25m","day":13.933,"temp":9.8},{"depth":"25m","day":13.965,"temp":9.29},{"depth":"25m","day":13.998,"temp":8.7},{"depth":"25m","day":14.026,"temp":9.04},{"depth":"25m","day":14.054,"temp":9.38},{"depth":"25m","day":14.086,"temp":9.72},{"depth":"25m","day":14.127,"temp":10.05},{"depth":"25m","day":14.159,"temp":10.31},{"depth":"25m","day":14.2,"temp":10.56},{"depth":"25m","day":14.24,"temp":10.48},{"depth":"25m","day":14.28,"temp":10.56},{"depth":"25m","day":14.308,"temp":10.31},{"depth":"25m","day":14.337,"temp":10.48},{"depth":"25m","day":14.369,"temp":10.65},{"depth":"25m","day":14.401,"temp":10.98},{"depth":"25m","day":14.429,"temp":10.73},{"depth":"25m","day":14.47,"temp":10.82},{"depth":"25m","day":14.51,"temp":10.85},{"depth":"25m","day":14.55,"temp":10.9},{"depth":"25m","day":14.591,"temp":10.85},{"depth":"25m","day":14.631,"temp":10.82},{"depth":"25m","day":14.672,"temp":10.98},{"depth":"25m","day":14.7,"temp":10.73},{"depth":"25m","day":14.732,"temp":10.31}
    ]
  },
  "resolve": {"scale": {"color": "independent", "x": "independent"}},
  "vconcat": [
    {
      "width": 533,
      "height": 194,
      "title": {"text": "Goseong Buoy"},
      "data": {"name": "goseong"},
      "mark": {"type": "line", "strokeWidth": 1.1, "clip": true},
      "encoding": {
        "x": {"field": "day", "type": "quantitative", "scale": {"domain": [8, 15], "nice": false, "zero": false}, "axis": {"values": [8, 9, 10, 11, 12, 13, 14, 15], "labelExpr": "'Mar.-' + datum.value", "title": "Days", "titlePadding": 3}},
        "y": {"field": "temp", "type": "quantitative", "scale": {"domain": [2, 12], "nice": false, "zero": false}, "axis": {"values": [2, 4, 6, 8, 10, 12], "title": "Temperature(℃)", "titlePadding": 16}},
        "color": {"field": "depth", "type": "nominal", "sort": ["5m", "20m", "30m"], "scale": {"domain": ["5m", "20m", "30m"], "range": ["#dc4c42", "#f1a572", "#2e2eb8"]}, "legend": {"legendX": 481, "legendY": 120}}
      }
    },
    {
      "width": 532,
      "height": 197,
      "title": {"text": "Yangyang Buoy"},
      "data": {"name": "yangyang"},
      "mark": {"type": "line", "strokeWidth": 1.1, "clip": true},
      "encoding": {
        "x": {"field": "day", "type": "quantitative", "scale": {"domain": [8.3, 14.75], "nice": false, "zero": false}, "axis": {"values": [9, 10, 11, 12, 13, 14], "labelExpr": "'Mar.-' + datum.value", "title": "Days", "titlePadding": 3}},
        "y": {"field": "temp", "type": "quantitative", "scale": {"domain": [2, 12], "nice": false, "zero": false}, "axis": {"values": [2, 4, 6, 8, 10, 12], "title": "Temperature(℃)", "titlePadding": 16}},
        "color": {"field": "depth", "type": "nominal", "sort": ["5m", "15m", "25m"], "scale": {"domain": ["5m", "15m", "25m"], "range": ["#dc4c42", "#f1a572", "#2e2eb8"]}, "legend": {"legendX": 481, "legendY": 120}}
      }
    }
  ]
}
